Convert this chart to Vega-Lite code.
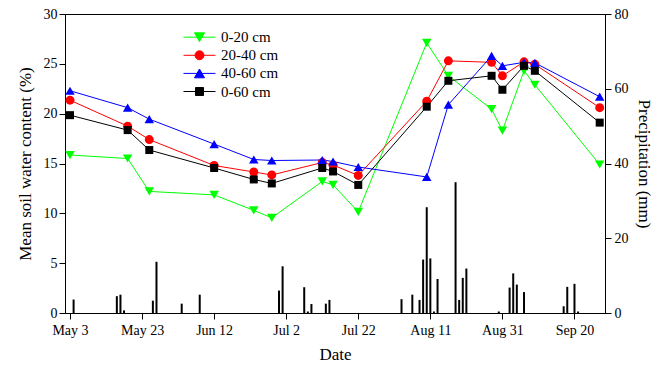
{
  "$schema": "https://vega.github.io/schema/vega-lite/v6.json",
  "width": 540,
  "height": 299,
  "autosize": "none",
  "padding": {"left": 65, "top": 14, "right": 61, "bottom": 56},
  "background": "white",
  "config": {
    "font": "Liberation Serif",
    "view": {"stroke": "black", "strokeWidth": 1},
    "style": {
      "guide-label": {"font": "Liberation Serif", "fill": "black"},
      "guide-title": {"font": "Liberation Serif", "fill": "black"}
    },
    "axis": {
      "labelFont": "Liberation Serif",
      "titleFont": "Liberation Serif",
      "labelFontSize": 14,
      "titleFontSize": 17,
      "titleFontWeight": "normal",
      "labelColor": "black",
      "titleColor": "black",
      "domainColor": "black",
      "tickColor": "black",
      "grid": false,
      "tickSize": 6,
      "labelPadding": 3
    },
    "legend": {
      "labelFont": "Liberation Serif",
      "labelFontSize": 15,
      "labelColor": "black"
    }
  },
  "datasets": {
    "soil": [
      {"date": "2017/05/03", "depth": "0-20 cm", "swc": 15.85},
      {"date": "2017/05/19", "depth": "0-20 cm", "swc": 15.5},
      {"date": "2017/05/25", "depth": "0-20 cm", "swc": 12.2},
      {"date": "2017/06/12", "depth": "0-20 cm", "swc": 11.85},
      {"date": "2017/06/23", "depth": "0-20 cm", "swc": 10.3},
      {"date": "2017/06/28", "depth": "0-20 cm", "swc": 9.55},
      {"date": "2017/07/12", "depth": "0-20 cm", "swc": 13.2},
      {"date": "2017/07/15", "depth": "0-20 cm", "swc": 12.85},
      {"date": "2017/07/22", "depth": "0-20 cm", "swc": 10.15},
      {"date": "2017/08/10", "depth": "0-20 cm", "swc": 27.1},
      {"date": "2017/08/16", "depth": "0-20 cm", "swc": 23.8},
      {"date": "2017/08/28", "depth": "0-20 cm", "swc": 20.45},
      {"date": "2017/08/31", "depth": "0-20 cm", "swc": 18.3},
      {"date": "2017/09/06", "depth": "0-20 cm", "swc": 24.3},
      {"date": "2017/09/09", "depth": "0-20 cm", "swc": 22.9},
      {"date": "2017/09/27", "depth": "0-20 cm", "swc": 14.9},
      {"date": "2017/05/03", "depth": "20-40 cm", "swc": 21.35},
      {"date": "2017/05/19", "depth": "20-40 cm", "swc": 18.75},
      {"date": "2017/05/25", "depth": "20-40 cm", "swc": 17.4},
      {"date": "2017/06/12", "depth": "20-40 cm", "swc": 14.8},
      {"date": "2017/06/23", "depth": "20-40 cm", "swc": 14.15},
      {"date": "2017/06/28", "depth": "20-40 cm", "swc": 13.85},
      {"date": "2017/07/12", "depth": "20-40 cm", "swc": 15.1},
      {"date": "2017/07/15", "depth": "20-40 cm", "swc": 14.85},
      {"date": "2017/07/22", "depth": "20-40 cm", "swc": 13.8},
      {"date": "2017/08/10", "depth": "20-40 cm", "swc": 21.25},
      {"date": "2017/08/16", "depth": "20-40 cm", "swc": 25.3},
      {"date": "2017/08/28", "depth": "20-40 cm", "swc": 25.15},
      {"date": "2017/08/31", "depth": "20-40 cm", "swc": 23.8},
      {"date": "2017/09/06", "depth": "20-40 cm", "swc": 25.2},
      {"date": "2017/09/09", "depth": "20-40 cm", "swc": 24.95},
      {"date": "2017/09/27", "depth": "20-40 cm", "swc": 20.6},
      {"date": "2017/05/03", "depth": "40-60 cm", "swc": 22.3},
      {"date": "2017/05/19", "depth": "40-60 cm", "swc": 20.6},
      {"date": "2017/05/25", "depth": "40-60 cm", "swc": 19.45},
      {"date": "2017/06/12", "depth": "40-60 cm", "swc": 16.95},
      {"date": "2017/06/23", "depth": "40-60 cm", "swc": 15.4},
      {"date": "2017/06/28", "depth": "40-60 cm", "swc": 15.3},
      {"date": "2017/07/12", "depth": "40-60 cm", "swc": 15.35},
      {"date": "2017/07/15", "depth": "40-60 cm", "swc": 15.2},
      {"date": "2017/07/22", "depth": "40-60 cm", "swc": 14.65},
      {"date": "2017/08/10", "depth": "40-60 cm", "swc": 13.65},
      {"date": "2017/08/16", "depth": "40-60 cm", "swc": 20.9},
      {"date": "2017/08/28", "depth": "40-60 cm", "swc": 25.8},
      {"date": "2017/08/31", "depth": "40-60 cm", "swc": 24.8},
      {"date": "2017/09/06", "depth": "40-60 cm", "swc": 25.15},
      {"date": "2017/09/09", "depth": "40-60 cm", "swc": 25.1},
      {"date": "2017/09/27", "depth": "40-60 cm", "swc": 21.7},
      {"date": "2017/05/03", "depth": "0-60 cm", "swc": 19.85},
      {"date": "2017/05/19", "depth": "0-60 cm", "swc": 18.35},
      {"date": "2017/05/25", "depth": "0-60 cm", "swc": 16.35},
      {"date": "2017/06/12", "depth": "0-60 cm", "swc": 14.55},
      {"date": "2017/06/23", "depth": "0-60 cm", "swc": 13.4},
      {"date": "2017/06/28", "depth": "0-60 cm", "swc": 13.0},
      {"date": "2017/07/12", "depth": "0-60 cm", "swc": 14.55},
      {"date": "2017/07/15", "depth": "0-60 cm", "swc": 14.2},
      {"date": "2017/07/22", "depth": "0-60 cm", "swc": 12.85},
      {"date": "2017/08/10", "depth": "0-60 cm", "swc": 20.7},
      {"date": "2017/08/16", "depth": "0-60 cm", "swc": 23.3},
      {"date": "2017/08/28", "depth": "0-60 cm", "swc": 23.8},
      {"date": "2017/08/31", "depth": "0-60 cm", "swc": 22.4},
      {"date": "2017/09/06", "depth": "0-60 cm", "swc": 24.8},
      {"date": "2017/09/09", "depth": "0-60 cm", "swc": 24.3},
      {"date": "2017/09/27", "depth": "0-60 cm", "swc": 19.1}
    ],
    "precip": [
      {"date": "2017/05/04", "mm": 3.6},
      {"date": "2017/05/16", "mm": 4.5},
      {"date": "2017/05/17", "mm": 4.9},
      {"date": "2017/05/18", "mm": 0.7},
      {"date": "2017/05/26", "mm": 3.3},
      {"date": "2017/05/27", "mm": 13.7},
      {"date": "2017/06/03", "mm": 2.5},
      {"date": "2017/06/08", "mm": 4.9},
      {"date": "2017/06/30", "mm": 6.0},
      {"date": "2017/07/01", "mm": 12.5},
      {"date": "2017/07/07", "mm": 6.9},
      {"date": "2017/07/08", "mm": 0.4},
      {"date": "2017/07/09", "mm": 2.4},
      {"date": "2017/07/13", "mm": 2.5},
      {"date": "2017/07/14", "mm": 3.5},
      {"date": "2017/08/03", "mm": 3.7},
      {"date": "2017/08/06", "mm": 4.9},
      {"date": "2017/08/08", "mm": 3.5},
      {"date": "2017/08/09", "mm": 14.3},
      {"date": "2017/08/10", "mm": 28.3},
      {"date": "2017/08/11", "mm": 14.6},
      {"date": "2017/08/12", "mm": 0.4},
      {"date": "2017/08/13", "mm": 9.1},
      {"date": "2017/08/18", "mm": 35.0},
      {"date": "2017/08/19", "mm": 3.5},
      {"date": "2017/08/20", "mm": 9.4},
      {"date": "2017/08/21", "mm": 11.9},
      {"date": "2017/08/30", "mm": 0.4},
      {"date": "2017/09/02", "mm": 6.8},
      {"date": "2017/09/03", "mm": 10.6},
      {"date": "2017/09/04", "mm": 7.6},
      {"date": "2017/09/06", "mm": 5.6},
      {"date": "2017/09/17", "mm": 1.8},
      {"date": "2017/09/18", "mm": 7.0},
      {"date": "2017/09/20", "mm": 7.8},
      {"date": "2017/09/21", "mm": 0.4}
    ]
  },
  "layer": [
    {
      "data": {"name": "precip"},
      "mark": {"type": "bar", "size": 2, "color": "black"},
      "encoding": {
        "x": {
          "field": "date", "type": "temporal",
          "scale": {"domain": [{"year": 2017, "month": 5, "date": 3}, {"year": 2017, "month": 9, "date": 27, "hours": 2}]},
          "axis": {
            "title": "Date",
            "format": "%b %-d",
            "values": [
              {"year": 2017, "month": 5, "date": 3},
              {"year": 2017, "month": 5, "date": 23},
              {"year": 2017, "month": 6, "date": 12},
              {"year": 2017, "month": 7, "date": 2},
              {"year": 2017, "month": 7, "date": 22},
              {"year": 2017, "month": 8, "date": 11},
              {"year": 2017, "month": 8, "date": 31},
              {"year": 2017, "month": 9, "date": 20}
            ],
            "labelFont": "Liberation Serif",
            "labelFlush": false,
            "labelOverlap": false,
            "labelPadding": 4,
            "titlePadding": 9
          }
        },
        "y": {
          "field": "mm", "type": "quantitative",
          "scale": {"domain": [0, 80], "nice": false},
          "axis": {"orient": "right", "values": [0, 20, 40, 60, 80], "title": "Precipitation (mm)", "titlePadding": 6, "labelFont": "Liberation Serif"}
        }
      }
    },
    {
      "data": {"name": "soil"},
      "encoding": {
        "x": {
          "field": "date", "type": "temporal",
          "scale": {"domain": [{"year": 2017, "month": 5, "date": 3}, {"year": 2017, "month": 9, "date": 27, "hours": 2}]}
        },
        "y": {
          "field": "swc", "type": "quantitative",
          "scale": {"domain": [0, 30], "nice": false},
          "axis": {"orient": "left", "values": [0, 5, 10, 15, 20, 25, 30], "title": "Mean soil water content (%)", "labelPadding": 2, "titlePadding": 9, "labelFont": "Liberation Serif"}
        },
        "color": {
          "field": "depth", "type": "nominal",
          "scale": {"domain": ["0-20 cm", "20-40 cm", "40-60 cm", "0-60 cm"], "range": ["#00ff00", "#ff0000", "#0000ff", "#000000"]},
          "legend": {
            "title": null,
            "orient": "none",
            "legendX": 126,
            "legendY": 14.7,
            "padding": 0,
            "symbolSize": 256,
            "symbolStrokeWidth": 1,
            "rowPadding": 1.1,
            "labelOffset": 13,
            "labelFont": "Liberation Serif",
            "encode": {
              "symbols": {
                "update": {
                  "shape": {"signal": "datum.value === '0-20 cm' ? 'M-2,0H2M0,0.55L0.63,-0.55L-0.63,-0.55Z' : datum.value === '20-40 cm' ? 'M-2,0H2M-0.56,0A0.56,0.56 0 1,0 0.56,0A0.56,0.56 0 1,0 -0.56,0Z' : datum.value === '40-60 cm' ? 'M-2,0H2M0,-0.55L0.63,0.55L-0.63,0.55Z' : 'M-2,0H2M-0.5,-0.5H0.5V0.5H-0.5Z'"},
                  "fill": {"signal": "scale('color', datum.value)"},
                  "stroke": {"signal": "scale('color', datum.value)"},
                  "strokeWidth": {"value": 1},
                  "opacity": {"value": 1},
                  "fillOpacity": {"value": 1}
                }
              },
              "labels": {
                "update": {"font": {"value": "Liberation Serif"}}
              }
            }
          }
        }
      },
      "layer": [
        {"mark": {"type": "line", "strokeWidth": 1}},
        {
          "transform": [{"filter": "datum.depth === '0-20 cm'"}],
          "mark": {"type": "point", "filled": true, "size": 90, "opacity": 1, "shape": "triangle-down"}
        },
        {
          "transform": [{"filter": "datum.depth === '20-40 cm'"}],
          "mark": {"type": "point", "filled": true, "size": 80, "opacity": 1, "shape": "circle"}
        },
        {
          "transform": [{"filter": "datum.depth === '40-60 cm'"}],
          "mark": {"type": "point", "filled": true, "size": 90, "opacity": 1, "shape": "triangle-up"}
        },
        {
          "transform": [{"filter": "datum.depth === '0-60 cm'"}],
          "mark": {"type": "point", "filled": true, "size": 64, "opacity": 1, "shape": "square"}
        }
      ]
    }
  ],
  "resolve": {"scale": {"y": "independent"}}
}
